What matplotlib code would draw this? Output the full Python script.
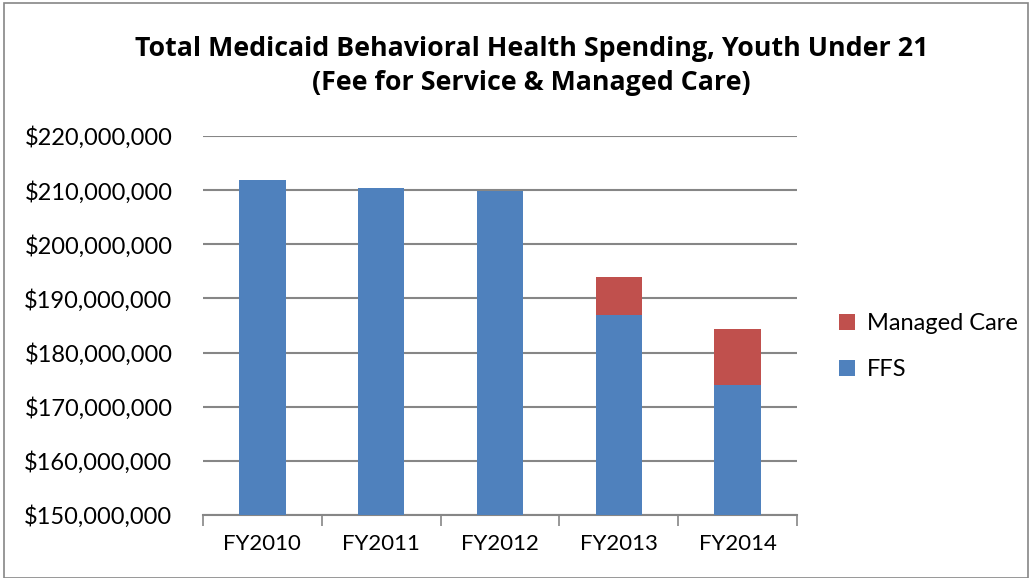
import numpy as np
import matplotlib.pyplot as plt
from matplotlib.ticker import FuncFormatter, FixedLocator
from matplotlib.patches import Rectangle

years = ['FY2010', 'FY2011', 'FY2012', 'FY2013', 'FY2014']
ffs = [211.8e6, 210.35e6, 209.8e6, 187.0e6, 174.0e6]
managed_care = [0, 0, 0, 7.0e6, 10.4e6]

blue = '#4f81bd'
red = '#c0504d'
grid_gray = '#868686'

plt.rcParams['font.family'] = ['Lato', 'DejaVu Sans']

fig = plt.figure(figsize=(10.32, 5.78), dpi=100, facecolor='w')
ax = fig.add_axes([0.1967, 0.109, 0.5756, 0.6557])

x = np.arange(len(years))
w = 0.39
b1 = ax.bar(x, ffs, w, color=blue, label='FFS', zorder=3)
b2 = ax.bar(x, managed_care, w, bottom=ffs, color=red, label='Managed Care', zorder=3)

ax.set_ylim(150e6, 220e6)
ax.set_xlim(-0.5, len(years) - 0.5)
ax.set_yticks(np.arange(150e6, 220e6 + 1, 10e6))
ax.yaxis.set_major_formatter(FuncFormatter(lambda v, p: '${:,.0f}'.format(v)))
ax.yaxis.grid(True, color=grid_gray, linewidth=1.5, zorder=0)
ax.tick_params(axis='y', length=0, labelsize=17, pad=22)

ax.set_xticks(x)
ax.set_xticklabels(years)
ax.xaxis.set_minor_locator(FixedLocator(np.arange(-0.5, len(years), 1.0)))
ax.tick_params(axis='x', which='major', length=0, labelsize=16, pad=14)
ax.tick_params(axis='x', which='minor', length=8, width=1.2, color=grid_gray, direction='out')

for s in ['left', 'right', 'top']:
    ax.spines[s].set_visible(False)
ax.spines['bottom'].set_color(grid_gray)
ax.spines['bottom'].set_linewidth(1.5)

fig.text(0.515, 0.886, 'Total Medicaid Behavioral Health Spending, Youth Under 21\n(Fee for Service & Managed Care)',
         ha='center', va='center', fontsize=19.3, fontweight='bold', linespacing=1.4,
         family=['Open Sans', 'DejaVu Sans'])

leg = fig.legend([b2, b1], ['Managed Care', 'FFS'], loc='center left',
                 bbox_to_anchor=(0.792, 0.40), frameon=False, fontsize=17,
                 handlelength=0.7, handleheight=0.7, handletextpad=0.5, labelspacing=1.05)

fig.patches.append(Rectangle((0.004, 0.0), 0.992, 0.994, transform=fig.transFigure,
                             fill=False, edgecolor='#868686', linewidth=1.2))

fig.savefig('out.png', dpi=100)
